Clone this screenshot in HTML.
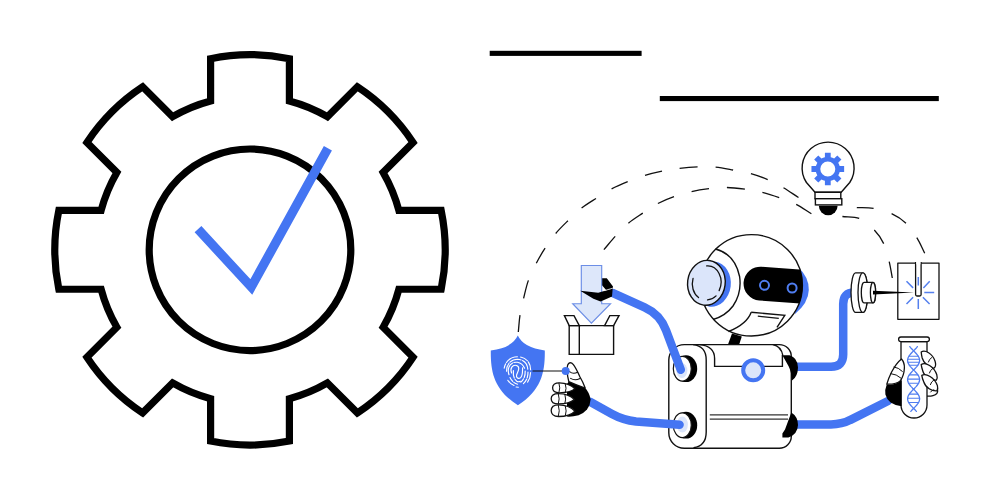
<!DOCTYPE html>
<html lang="en">
<head>
<meta charset="utf-8">
<title>Automation robot illustration</title>
<style>
html,body{margin:0;padding:0;background:#fff;}
body{width:990px;height:500px;overflow:hidden;font-family:"Liberation Sans",sans-serif;}
svg{display:block;}
</style>
</head>
<body>
<svg width="990" height="500" viewBox="0 0 990 500">
<rect width="990" height="500" fill="#ffffff"/>

<!-- ===== big gear ===== -->
<g id="gear" fill="none" stroke="#000" stroke-width="7.2" stroke-linejoin="miter">
<path d="M210.60,100.98 L210.60,58.67 A195.2,195.2 0 0 1 289.40,58.67 L289.40,100.98 A154,154 0 0 1 327.41,116.72 L357.33,86.80 A195.2,195.2 0 0 1 413.05,142.52 L383.13,172.44 A154,154 0 0 1 398.87,210.45 L441.18,210.45 A195.2,195.2 0 0 1 441.18,289.25 L398.87,289.25 A154,154 0 0 1 383.13,327.26 L413.05,357.18 A195.2,195.2 0 0 1 357.33,412.90 L327.41,382.98 A154,154 0 0 1 289.40,398.72 L289.40,441.03 A195.2,195.2 0 0 1 210.60,441.03 L210.60,398.72 A154,154 0 0 1 172.59,382.98 L142.67,412.90 A195.2,195.2 0 0 1 86.95,357.18 L116.87,327.26 A154,154 0 0 1 101.13,289.25 L58.82,289.25 A195.2,195.2 0 0 1 58.82,210.45 L101.13,210.45 A154,154 0 0 1 116.87,172.44 L86.95,142.52 A195.2,195.2 0 0 1 142.67,86.80 L172.59,116.72 A154,154 0 0 1 210.60,100.98 Z"/>
<circle cx="250" cy="249.8" r="100.8"/>
</g>
<polyline points="198.0,229.2 251.3,286.9 327.9,148.3" fill="none" stroke="#4475f2" stroke-width="9.2" stroke-linejoin="miter" stroke-miterlimit="10"/>

<!-- ===== top lines ===== -->
<rect x="489.7" y="50.8" width="151.9" height="5.1" fill="#000"/>
<rect x="659.8" y="96" width="279" height="5.1" fill="#000"/>

<!-- ===== dashed connector arcs ===== -->
<g id="dashes" fill="none" stroke="#111" stroke-width="1.3" stroke-linecap="butt">
<path d="M518.3,332.0 C518.9,326.4 519.1,320.8 520.0,315.2 M523.6,298.4 C525.1,292.4 526.3,286.2 528.4,280.4 M536.3,263.2 C539.0,258.1 541.9,253.0 545.1,248.2 M555.7,233.5 C559.4,229.0 563.7,224.9 567.9,220.8 M581.6,208.1 C586.1,204.5 591.1,201.6 596.0,198.5 M611.6,188.9 C616.8,186.2 622.3,183.9 627.7,181.7 M645.0,175.3 C650.6,173.6 656.3,172.3 662.0,171.1 M679.6,168.3 C685.6,167.6 691.6,167.1 697.6,166.9 M715.6,167.1 C721.5,167.6 727.3,168.9 733.1,170.0 M750.9,173.6 C756.6,175.2 762.3,177.2 767.7,179.6 M783.5,187.8 C788.6,190.8 793.5,194.3 798.5,197.5"/>
<path d="M603.9,249.6 C607.7,245.2 611.3,240.6 615.2,236.4 M628.4,223.2 C632.9,219.4 637.9,216.4 642.8,213.1 M657.9,203.5 C663.0,200.8 668.5,198.5 674.0,196.6 M691.6,191.6 C697.3,190.3 703.2,189.4 709.0,188.7 M726.9,187.5 C732.9,187.6 738.9,188.4 744.9,189.2 M762.4,192.3 C768.1,193.7 773.7,195.6 779.2,197.6 M796.2,204.4 C801.5,207.1 806.3,210.7 811.4,213.8"/>
<path d="M856.8,207.6 C862.4,207.8 868.1,207.4 873.6,208.3 M891.6,213.6 C896.8,216.0 901.9,219.3 906.0,223.2 M916.8,237.6 C919.9,242.5 922.1,248.0 924.7,253.2"/>
<path d="M842.4,216.5 C848.0,217.1 854.2,216.3 859.2,218.4 M874.3,230.0 C878.1,233.9 881.4,238.7 883.7,243.6 M889.2,261.6 C890.5,267.0 891.3,272.5 892.3,278.0"/>
</g>

<!-- ===== light bulb with gear ===== -->
<g id="bulb">
<path d="M815,192.3 L806.45,182.5 A26,26 0 1 1 849.75,182.5 L841.2,192.3 Z" fill="#fff" stroke="#111" stroke-width="1.4" stroke-linejoin="round"/>
<rect x="815" y="192.3" width="25.8" height="6.4" fill="#fff" stroke="#111" stroke-width="1.4"/>
<rect x="815.4" y="198.7" width="26.4" height="6.2" fill="#fff" stroke="#111" stroke-width="1.4"/>
<path d="M818.8,205.8 A9.4,9.4 0 0 0 837.6,205.8 Z" fill="#000"/>
<path fill="#4475f2" fill-rule="evenodd" d="M824.90,157.15 L824.90,152.66 L830.70,152.66 L830.70,157.15 A12.2,12.2 0 0 1 834.13,158.57 L837.31,155.39 L841.41,159.49 L838.23,162.67 A12.2,12.2 0 0 1 839.65,166.10 L844.14,166.10 L844.14,171.90 L839.65,171.90 A12.2,12.2 0 0 1 838.23,175.33 L841.41,178.51 L837.31,182.61 L834.13,179.43 A12.2,12.2 0 0 1 830.70,180.85 L830.70,185.34 L824.90,185.34 L824.90,180.85 A12.2,12.2 0 0 1 821.47,179.43 L818.29,182.61 L814.19,178.51 L817.37,175.33 A12.2,12.2 0 0 1 815.95,171.90 L811.46,171.90 L811.46,166.10 L815.95,166.10 A12.2,12.2 0 0 1 817.37,162.67 L814.19,159.49 L818.29,155.39 L821.47,158.57 A12.2,12.2 0 0 1 824.90,157.15 Z M820.30,169.00 a7.5,7.5 0 1 0 15.00,0 a7.5,7.5 0 1 0 -15.00,0 Z"/>
</g>

<!-- ===== shield with fingerprint ===== -->
<g id="shield">
<path d="M517.8,335.6 Q512,348 490.8,350.4 C490.5,372 494,390 517.9,405.3 C541.6,390 545.1,372 544.8,350.4 Q523.6,348 517.8,335.6 Z" fill="#4475f2"/>
<g fill="none" stroke="#fff" stroke-width="1.15" stroke-linecap="round" transform="translate(0 25.6) scale(1 0.93)">
<path d="M511.6,373.6 C509.6,368.6 512.6,364.4 516.4,365.4 C521,366.8 517.6,372.6 516.6,375.6 C515.8,378.6 518.6,380.4 520.6,378.6 C523,376 522.4,371.4 522.6,368"/>
<path d="M509,375.4 C506.4,367.4 511,361.2 517.4,362 C521.6,362.8 523.4,365.4 524.6,368.4" stroke-dasharray="14 1.5 30"/>
<path d="M506.6,371.6 C506.4,364 511,358.8 517.6,358.8 C523.4,359 527.4,363 527.8,369.6" stroke-dasharray="9 1.5 12 1.5 30"/>
<path d="M504.2,368.4 C505.4,361 510.6,356.2 517.4,356" stroke-dasharray="5 1.5 30"/>
<path d="M520.6,356.4 C527,357.8 530.6,363 530.6,370" stroke-dasharray="8 1.5 30"/>
<path d="M525.2,371.4 C525.4,376.4 524,380.4 520.8,383.4" stroke-dasharray="7 1.5 30"/>
<path d="M528,372.6 C528,378.2 526.4,382 523.4,385" stroke-dasharray="6 1.5 30"/>
<path d="M530.6,373 C530.4,377.6 529.4,380.8 527.6,383.4"/>
<path d="M513.4,371 C513,375.6 513.6,379.6 516.8,382.4 C518.2,383.4 519.4,383 520.4,382.4" stroke-dasharray="8 1.5 30"/>
<path d="M510,378.4 C511.6,382 514,384.6 517.6,385.6" stroke-dasharray="5 1.5 30"/>
<path d="M507.8,381.4 C509.6,384.4 511.6,386 514,387 M516,388.6 L518.4,388.8"/>
</g>
<line x1="532.5" y1="371" x2="565" y2="371" stroke="#111" stroke-width="1.2"/>
</g>

<!-- ===== box with arrow ===== -->
<g id="box">
<path d="M569.2,325.6 H613.6 V354.4 H569.2 Z" fill="#fff" stroke="#111" stroke-width="1.4" stroke-linejoin="miter"/>
<line x1="579.3" y1="325.6" x2="579.3" y2="354.4" stroke="#111" stroke-width="1.4"/>
<path d="M569.2,325.6 L564.4,315.6 H574 L579.3,325.6 Z" fill="#fff" stroke="#111" stroke-width="1.4" stroke-linejoin="miter"/>
<path d="M613.6,325.6 L619,315.6 H609.8 L604.6,325.6 Z" fill="#fff" stroke="#111" stroke-width="1.4" stroke-linejoin="miter"/>
<!-- thumb behind arrow -->
<path d="M600,278.2 L606.8,278.2 L613,286.6 L612.7,288.4 L606.3,290.2 L602.2,285.6 L600,285.6 Z" fill="#000"/>
<path d="M581.3,265.5 H601.7 V303.7 H610.5 L591.4,323.2 L572.7,303.7 H581.3 Z" fill="#dde7fa" stroke="#6c8ee6" stroke-width="1.15" stroke-linejoin="miter"/>
</g>

<!-- ===== robot body ===== -->
<g id="body" stroke="#111" stroke-width="1.4" fill="none">
<!-- neck -->
<path d="M732,333.5 L741.8,336.5 L739,345 L727.8,345 Z" fill="#000" stroke="none"/>
<path d="M684.3,344.6 H779.3 A12,12 0 0 1 791.3,356.6 V436.2 A12,12 0 0 1 779.3,448.2 H684.3 A15.5,15.5 0 0 1 668.8,432.7 V360.1 A15.5,15.5 0 0 1 684.3,344.6 Z" fill="#fff"/>
<path d="M693,344.6 Q706.2,346 706.2,360 V432 Q706.2,446 693.5,447.8"/>
<path d="M699.6,344.6 Q714.6,346 714.6,358.5 V366.4 H782.4 V355"/>
<path d="M772.8,344.6 Q781,346 782.8,355.4"/>
<line x1="709.8" y1="414.8" x2="788" y2="414.8" stroke-width="1.15" stroke="#333"/>
<line x1="709.8" y1="419.1" x2="788" y2="419.1" stroke-width="1.15" stroke="#333"/>
<!-- sockets -->
<ellipse cx="686" cy="368.7" rx="11.2" ry="13.4" fill="#000" stroke="none"/>
<ellipse cx="682.3" cy="368.7" rx="9" ry="12.4" fill="#fff" stroke-width="1.2"/>
<ellipse cx="681.8" cy="370.5" rx="5.6" ry="7.4" fill="#dbe5fa" stroke="none"/>
<ellipse cx="686" cy="425.2" rx="11.2" ry="13.4" fill="#000" stroke="none"/>
<ellipse cx="682.3" cy="425.2" rx="9" ry="12.4" fill="#fff" stroke-width="1.2"/>
<ellipse cx="682.3" cy="424.6" rx="5.6" ry="8" fill="#dbe5fa" stroke="none"/>
<!-- chest button -->
<circle cx="753.2" cy="370.3" r="10" fill="#dbe5fa" stroke="#4475f2" stroke-width="4"/>
</g>
<!-- ===== arms (blue) ===== -->
<g id="arms" fill="none" stroke="#4475f2" stroke-width="8.5" stroke-linecap="round" stroke-linejoin="round">
<path d="M612.5,292.9 L644.6,307.4 Q660.1,314.4 666,330.3 L680.8,369.8"/>
<path d="M590,401.8 L612,414 Q623,420 636,421.5 L679.6,424.8"/>
<path d="M797,366.8 H831 Q843.2,366.8 843.2,354.6 V304 Q843.2,292.6 854,292.6"/>
<path d="M797,424.4 H831 Q842,424.4 850,420.1 L888,401"/>
</g>
<!-- ===== right joints ===== -->
<g id="joints" fill="#000">
<path d="M782.4,355.2 L789.5,355.2 Q797.6,357.5 798,367.4 Q797.8,376.5 792,380.6 Q791.5,372 788.6,366.2 Z"/>
<path d="M791.3,412.4 Q798,416.5 798,425 Q797.6,434.5 788.4,437.4 L782.4,437.4 L782.4,433.5 L785,429.4 Z"/>
</g>

<!-- ===== left hands ===== -->
<g id="handL" stroke="#111" stroke-width="1.3" stroke-linejoin="round" stroke-linecap="round">
<!-- palm -->
<path d="M568.8,381.6 Q577,384 584.9,387.6 Q589.6,393 590.6,399.5 Q590.4,405 587,409.5 Q583.5,413.5 578.6,415.2 Q572,417 567,416.6 L567,384 Z" fill="#000" stroke="none"/>
<!-- thumb -->
<path d="M570.2,362.6 Q567,363.6 567.2,369 Q567.2,376 568.8,381.6 Q577,385.4 585.2,388 Q583,382 580,377 Q576,368 573.4,364.6 Q571.8,362.6 570.2,362.6 Z" fill="#fff"/>
<path d="M569.6,371.6 Q573,374.6 577.6,372.2 M570.6,378.4 Q575,381.2 580,378.4" fill="none" stroke-width="1.1"/>
<!-- fingers -->
<path d="M575,388.8 C571.5,385.4 566,382.9 559.4,382.8 Q552.6,382.8 552.6,387.8 Q552.6,392.8 559.4,392.8 C566,392.8 571.5,391.6 575,388.8 Z" fill="#fff"/>
<path d="M574.4,399.6 C571,396 565.5,393.6 558.4,393.6 Q551.2,393.6 551.2,398.8 Q551.2,404 558.4,404 C565.5,404 571,402.6 574.4,399.6 Z" fill="#fff"/>
<path d="M575,411.2 C571.5,407.4 566,404.8 558.6,404.8 Q551.2,404.8 551.2,410.6 Q551.2,416.5 558.6,416.5 C566,416.5 571.5,414.8 575,411.2 Z" fill="#fff"/>
<path d="M559,383.2 Q560.6,388 559,392.4 M565.4,384.4 Q566.8,388.4 565.4,392 M558.4,394 Q560,399 558.4,403.6 M565,395 Q566.4,399.2 565,403 M558.4,405.4 Q560.2,410.8 558.4,416 M565.4,406.4 Q567,411 565.4,415.4" fill="none" stroke-width="1"/>
</g>
<circle cx="565.7" cy="371.1" r="4" fill="#4475f2"/>

<!-- hand on arrow (front finger) -->
<path d="M580.2,290.8 L598.2,292.8 L612.7,288.6 L612,296.6 L600.6,301.6 L593.4,298.8 Z" fill="#000"/>
<path d="M604.5,290.6 L612.6,288.2" stroke="#fff" stroke-width="0.7" fill="none"/>
<!-- ===== robot head ===== -->
<g id="head" stroke="#111" stroke-width="1.4" fill="none">
<!-- right blue cheek -->
<path d="M798,267 Q809,277 808.8,290 Q808.4,303 795,314 Z" fill="#4475f2" stroke="none"/>
<ellipse cx="751.4" cy="285.3" rx="51" ry="50.7" fill="#fff"/>
<!-- inner arc around ear -->
<path d="M715.4,249 Q735,254 739.6,276.5 Q742,293 733,306 Q725.5,316 713,319.5"/>
<!-- jaw -->
<path d="M751.2,312.2 Q747,324 728.5,331.5"/>
<path d="M751.2,312.2 L784.8,315.4 L777,327.4"/>
<line x1="757.8" y1="316.1" x2="778.8" y2="318.4" stroke-width="1.2"/>
<!-- visor -->
<clipPath id="headclip"><ellipse cx="751.4" cy="285.3" rx="51.4" ry="51.1"/></clipPath>
<g clip-path="url(#headclip)"><rect x="743.5" y="267.6" width="75" height="33.8" rx="16.9" ry="16.9" fill="#000" stroke="none" transform="rotate(4.2 773 284.6)"/></g>
<circle cx="764.5" cy="285.3" r="4.5" stroke="#4f7df0" stroke-width="2"/>
<circle cx="792.1" cy="288" r="4.5" stroke="#4f7df0" stroke-width="2"/>
<!-- ear -->
<ellipse cx="712.4" cy="284.2" rx="18.4" ry="22.6" fill="#4475f2" stroke="none" transform="rotate(7 712.4 284.2)"/>
<ellipse cx="706.4" cy="282.8" rx="18.8" ry="22.5" fill="#dbe5fa" transform="rotate(7 706.4 282.8)"/>
<g transform="rotate(7 706.4 282.8)" stroke-width="1.3" stroke-linecap="round">
<path d="M704.6,266 A14,17 0 0 1 720,289"/>
<path d="M717.6,294.6 A14,17 0 0 1 709.6,299.6"/>
<path d="M700.4,298.4 A14,17 0 0 1 692.6,280"/>
</g>
</g>

<!-- ===== tool (disc + needle) and target square ===== -->
<g id="tool" stroke="#111" stroke-width="1.3" fill="#fff" stroke-linejoin="round">
<rect x="897.8" y="263.1" width="41.2" height="56.2" />
<path d="M915.6,262 V294.5 Q915.6,296 917,296 H919.7 Q921.1,296 921.1,294.5 V262" fill="#fff"/>
<line x1="916.3" y1="263.1" x2="920.4" y2="263.1" stroke="#fff" stroke-width="2.4"/>
<g stroke="#5580ee" stroke-width="1.5" fill="none">
<path d="M918.3,277.1 V285.5 M906.5,281.3 L913.1,287.9 M923.4,287.9 L929.7,281.3 M924.3,292.5 H934.2 M922.9,297.3 L929.6,304 M918.3,299.1 V308.9 M913.1,297.3 L906.5,304"/>
</g>
<!-- big disc -->
<path d="M855.6,272.8 A4.6,19.8 0 0 0 855.6,312.4 H862.9 A4.9,19.8 0 0 0 862.9,272.8 Z"/>
<ellipse cx="862.9" cy="292.6" rx="4.9" ry="19.8"/>
<!-- small cylinder -->
<path d="M864,282.4 A2.7,10.2 0 0 0 864,302.8 H873 A2.6,10.2 0 0 0 873,282.4 Z"/>
<ellipse cx="873" cy="292.6" rx="2.6" ry="10.2"/>
<path d="M873,290.8 L914,292.5 L873,294.5 Z" fill="#000" stroke="none"/>
</g>
<!-- ===== test tube with hand ===== -->
<g id="tube" stroke="#111" stroke-width="1.3" stroke-linejoin="round" stroke-linecap="round" fill="#fff">
<!-- little finger (behind tube) -->
<path d="M925,387.6 Q934,386.6 937.6,390.4 Q938.2,394.4 933,395.6 Q929.6,396.5 925,395.9 Z"/>
<!-- tube -->
<path d="M901,341.6 H927 V405 A13,13 0 0 1 901,405 Z"/>
<rect x="898.6" y="337" width="30.8" height="4.6" rx="2.3" ry="2.3"/>
<!-- fingers in front of tube -->
<path d="M921.2,352 C925,349.4 932.5,353.5 935,361 C936.2,364.6 935.6,366.8 934.2,368 C930,368.6 923.6,363.5 922.2,358 Q921.4,354.5 921.2,352 Z"/>
<path d="M921.2,364.6 C925.5,361.8 934,366.5 936.8,374.8 C937.6,377.6 937.2,379 936.4,380 C931.5,380.8 924.2,376.5 922.8,371 Q921.6,367.5 921.2,364.6 Z"/>
<path d="M921.8,375.4 C926,372.8 934.5,377.5 937.4,385.6 C938,388 937.8,389.6 937,390.8 C932,391.4 925.4,387.5 923.8,382 Q922.2,378.5 921.8,375.4 Z"/>
<path d="M928.4,362 Q929.2,359 931.6,357.6 M929.4,373 Q930.2,370 932.6,368.6 M930.4,384.6 Q931.2,381.6 933.6,380.2 M930.6,392 Q931.6,390.4 933.8,389.8" fill="none" stroke-width="1"/>
<!-- thumb + palm (in front of tube) -->
<path d="M886.8,384.2 Q892,385 896,383.4 Q899,382 900.4,380.4 L901.6,381 L901.6,406.2 Q895,405.4 890.6,402.4 Q886.6,399.4 885.4,394.6 Q884.6,389.6 886.8,384.2 Z" fill="#000" stroke="none"/>
<path d="M901.5,359 Q904.6,362.6 904.4,368 Q904,375.6 900.4,380.6 Q897,384.4 886.8,384.2 Q888.4,378.4 891.6,372 Q896.4,363 901.5,359 Z"/>
<path d="M894,367 Q898.4,367.4 902.4,371.4 M890.8,373.6 Q896.4,374 901.4,378.4" fill="none" stroke-width="1"/>
<!-- DNA -->
<g stroke="#4f7df0" stroke-width="1.3" fill="none" stroke-linejoin="round">
<path d="M909.8,346.6 L910.4,347.4 L911.1,348.2 L911.9,349.0 L912.6,349.8 L913.4,350.6 L914.2,351.4 L915.0,352.2 L915.7,353.0 L916.4,353.8 L917.1,354.6 L917.7,355.4 L918.2,356.2 L918.7,357.0 L919.1,357.8 L919.3,358.6 L919.5,359.4 L919.6,360.2 L919.6,361.0 L919.4,361.8 L919.2,362.6 L918.9,363.4 L918.5,364.2 L918.0,365.0 L917.4,365.8 L916.8,366.6 L916.1,367.4 L915.3,368.2 L914.6,369.0 L913.8,369.8 L913.0,370.6 L912.2,371.4 L911.5,372.2 L910.8,373.0 L910.1,373.8 L909.5,374.6 L909.0,375.4 L908.5,376.2 L908.1,377.0 L907.9,377.8 L907.7,378.6 L907.6,379.4 L907.6,380.2 L907.8,381.0 L908.0,381.8 L908.3,382.6 L908.7,383.4 L909.2,384.2 L909.8,385.0 L910.4,385.8 L911.1,386.6 L911.9,387.4 L912.6,388.2 L913.4,389.0 L914.2,389.8 L915.0,390.6 L915.7,391.4 L916.4,392.2 L917.1,393.0 L917.7,393.8 L918.2,394.6 L918.7,395.4 L919.1,396.2 L919.3,397.0 L919.5,397.8 L919.6,398.6 L919.6,399.4 L919.4,400.2 L919.2,401.0 L918.9,401.8 L918.5,402.6 L918.0,403.4 L917.4,404.2 L916.8,405.0 L916.1,405.8 L915.3,406.6 L914.6,407.4 L913.8,408.2 L913.0,409.0 L912.2,409.8 L911.5,410.6 L910.8,411.4"/>
<path d="M917.4,346.6 L916.8,347.4 L916.1,348.2 L915.3,349.0 L914.6,349.8 L913.8,350.6 L913.0,351.4 L912.2,352.2 L911.5,353.0 L910.8,353.8 L910.1,354.6 L909.5,355.4 L909.0,356.2 L908.5,357.0 L908.1,357.8 L907.9,358.6 L907.7,359.4 L907.6,360.2 L907.6,361.0 L907.8,361.8 L908.0,362.6 L908.3,363.4 L908.7,364.2 L909.2,365.0 L909.8,365.8 L910.4,366.6 L911.1,367.4 L911.9,368.2 L912.6,369.0 L913.4,369.8 L914.2,370.6 L915.0,371.4 L915.7,372.2 L916.4,373.0 L917.1,373.8 L917.7,374.6 L918.2,375.4 L918.7,376.2 L919.1,377.0 L919.3,377.8 L919.5,378.6 L919.6,379.4 L919.6,380.2 L919.4,381.0 L919.2,381.8 L918.9,382.6 L918.5,383.4 L918.0,384.2 L917.4,385.0 L916.8,385.8 L916.1,386.6 L915.3,387.4 L914.6,388.2 L913.8,389.0 L913.0,389.8 L912.2,390.6 L911.5,391.4 L910.8,392.2 L910.1,393.0 L909.5,393.8 L909.0,394.6 L908.5,395.4 L908.1,396.2 L907.9,397.0 L907.7,397.8 L907.6,398.6 L907.6,399.4 L907.8,400.2 L908.0,401.0 L908.3,401.8 L908.7,402.6 L909.2,403.4 L909.8,404.2 L910.4,405.0 L911.1,405.8 L911.9,406.6 L912.6,407.4 L913.4,408.2 L914.2,409.0 L915.0,409.8 L915.7,410.6 L916.4,411.4"/>
<path d="M909.0,356.2 H918.2 M907.7,359.2 H919.5 M907.9,362.2 H919.3 M909.4,365.2 H917.8 M909.3,374.9 H917.9 M907.6,379.1 H919.6 M908.7,383.3 H918.5 M909.3,394.1 H917.9 M907.6,398.3 H919.6 M908.7,402.5 H918.5" stroke-width="1.1"/>
</g>
</g>

</svg>
</body>
</html>
